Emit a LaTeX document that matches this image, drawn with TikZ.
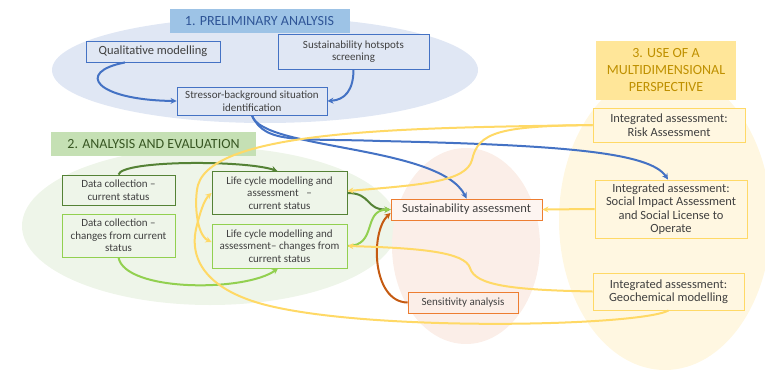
\documentclass[tikz,border=0pt]{standalone}
\usepackage{fontspec}
\setmainfont{Carlito}
\usetikzlibrary{arrows.meta}

\definecolor{txt}{HTML}{404040}
\definecolor{bluefill}{HTML}{E0E7F4}
\definecolor{blueline}{HTML}{4472C4}
\definecolor{bluetitle}{HTML}{9DC3E6}
\definecolor{bluetext}{HTML}{2F5597}
\definecolor{greenfill}{HTML}{EEF5E9}
\definecolor{darkgreen}{HTML}{548235}
\definecolor{lightgreen}{HTML}{92D050}
\definecolor{greentitle}{HTML}{C5E0B4}
\definecolor{greentext}{HTML}{385723}
\definecolor{pinkfill}{HTML}{FBEEE8}
\definecolor{orangebox}{HTML}{ED7D31}
\definecolor{orangeline}{HTML}{C55A11}
\definecolor{yellowfill}{HTML}{FFF7E1}
\definecolor{yellowline}{HTML}{FFD966}
\definecolor{yellowtitle}{HTML}{FFE699}
\definecolor{yellowtext}{HTML}{BF9000}

\begin{document}
\begin{tikzpicture}[x=1pt,y=-1pt,
  box/.style={draw, line width=0.9pt, align=center, inner sep=1pt, text=txt},
  heading/.style={inner sep=0pt, align=center, font=\fontsize{14}{17}\selectfont},
  big/.style={font=\fontsize{12.5}{13.5}\selectfont},
  small/.style={font=\fontsize{11}{12.5}\selectfont},
  link/.style={line width=2pt, -{Stealth[length=6pt,width=6pt]}},
]
\useasboundingbox (0,0) rectangle (765,370);

% phase backgrounds
\fill[bluefill] (265,70) ellipse [x radius=213, y radius=53];
\fill[greenfill] (210,226) ellipse [x radius=188, y radius=79];
\fill[pinkfill] (466,246) ellipse [x radius=74, y radius=98];
\fill[yellowfill] (665,220) ellipse [x radius=106, y radius=150];

% phase headings
\node[heading, fill=bluetitle, text=bluetext, minimum width=180pt, minimum height=24pt] (t1) at (259.5,21) {1. PRELIMINARY ANALYSIS};
\node[heading, fill=greentitle, text=greentext, minimum width=205pt, minimum height=24pt] (t2) at (153.5,144) {2. ANALYSIS AND EVALUATION};
\node[heading, fill=yellowtitle, text=yellowtext, minimum width=140pt, minimum height=59pt] (t3) at (666,70.5) {3. USE OF A\\MULTIDIMENSIONAL\\PERSPECTIVE};

% preliminary analysis
\node[box, big, draw=blueline, fill=bluefill, minimum width=134pt, minimum height=21pt] (qm) at (153,51.5) {Qualitative modelling};
\node[box, small, draw=blueline, fill=bluefill, minimum width=151pt, minimum height=35pt] (shs) at (353.5,51.5) {Sustainability hotspots\\screening};
\node[box, small, draw=blueline, fill=bluefill, minimum width=150pt, minimum height=28pt] (sbs) at (252,101) {Stressor-background situation\\identification};

% analysis and evaluation
\node[box, small, draw=darkgreen, fill=greenfill, minimum width=113pt, minimum height=30pt] (dc1) at (118.5,190) {Data collection --\\current status};
\node[box, small, draw=lightgreen, fill=greenfill, minimum width=113pt, minimum height=43pt] (dc2) at (118.5,235.5) {Data collection --\\changes from current\\status};
\node[box, small, draw=darkgreen, fill=greenfill, minimum width=135pt, minimum height=43pt] (lc1) at (279.5,193) {Life cycle modelling and\\assessment \ \ --\\current status};
\node[box, small, draw=lightgreen, fill=greenfill, minimum width=135pt, minimum height=44pt] (lc2) at (279.5,246) {Life cycle modelling and\\assessment-- changes from\\current status};

% sustainability
\node[box, big, draw=orangebox, fill=pinkfill!60!white, minimum width=151pt, minimum height=21pt] (sa) at (466.5,209.5) {Sustainability assessment};
\node[box, small, draw=orangebox, fill=pinkfill, minimum width=110pt, minimum height=21pt] (sens) at (463,302.5) {Sensitivity analysis};

% multidimensional perspective
\node[box, big, draw=yellowline, fill=yellowfill, minimum width=152pt, minimum height=34pt] (ra) at (669,125) {Integrated assessment:\\Risk Assessment};
\node[box, big, draw=yellowline, fill=yellowfill, minimum width=152pt, minimum height=58pt] (sia) at (671,209) {Integrated assessment:\\Social Impact Assessment\\and Social License to\\Operate};
\node[box, big, draw=yellowline, fill=yellowfill, minimum width=151pt, minimum height=37pt] (geo) at (668.5,291.5) {Integrated assessment:\\Geochemical modelling};

% blue links
\draw[link, blueline] ([xshift=-28pt]qm.south) .. controls (75,72) and (95,100) .. (sbs.west);
\draw[link, blueline] (shs.south) .. controls (353.5,90) and (345,100) .. (sbs.east);
\draw[link, blueline] (sbs.south) .. controls (262,150) and (440,145) .. (sa.north);
\draw[link, blueline] (sbs.south) .. controls (265,145) and (300,138) .. (380,141)
  .. controls (560,145) and (650,152) .. ([xshift=-3pt]sia.north);

% green links
\draw[link, darkgreen] (dc1.north) .. controls (122,160) and (245,160) .. ([xshift=-2pt]lc1.north);
\draw[link, lightgreen] (dc2.south) .. controls (125,292) and (245,292) .. ([xshift=-1.5pt]lc2.south);
\draw[link, darkgreen] (lc1.east) .. controls (372,193) and (365,210) .. (sa.west);
\draw[link, lightgreen] (lc2.east) .. controls (378,246) and (362,210) .. (sa.west);

% orange link
\draw[link, orangeline] (sens.west) .. controls (372,302) and (370,232) .. ([yshift=-3.5pt]sa.west);

% yellow links
\draw[link, yellowline] (ra.west) .. controls (500,126) and (478,132) .. (472,160)
  .. controls (466,182) and (420,185) .. ([yshift=2pt]lc1.east);
\draw[link, yellowline] (ra.west) .. controls (420,128) and (215,128) .. (198,185)
  .. controls (194,200) and (196,235) .. ([yshift=4pt]lc2.west);
\draw[link, yellowline] (geo.south) .. controls (640,326) and (380,332) .. (270,306)
  .. controls (215,293) and (186,265) .. (197,225)
  .. controls (200,213) and (204,200) .. (lc1.west);
\draw[link, yellowline] (geo.west) .. controls (510,290) and (475,285) .. (470,268)
  .. controls (465,252) and (420,248) .. (lc2.east);
\draw[link, yellowline] (sia.west) -- (sa.east);
\end{tikzpicture}
\end{document}
